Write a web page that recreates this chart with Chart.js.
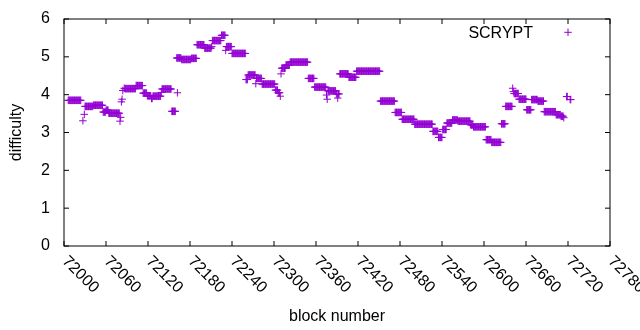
<!DOCTYPE html>
<html>
<head>
<meta charset="utf-8">
<title>SCRYPT difficulty</title>
<script src="https://cdn.jsdelivr.net/npm/chart.js@4.4.1/dist/chart.umd.min.js"></script>
<style>
    html, body { margin: 0; padding: 0; background: #fff; }
    #wrap { width: 640px; height: 330px; }
</style>
</head>
<body>
<div id="wrap"><canvas id="chartDifficulty"></canvas></div>
<script>
// Difficulty: block range -> value
const runFrom  = [72006, 72027, 72029, 72030, 72042, 72056, 72060, 72064, 72080, 72081,
                  72082, 72083, 72084, 72086, 72087, 72103, 72113, 72119, 72125, 72127,
                  72139, 72140, 72154, 72161, 72162, 72168, 72182, 72190, 72201, 72211,
                  72212, 72225, 72231, 72232, 72240, 72260, 72263, 72274, 72275, 72283,
                  72302, 72306, 72309, 72310, 72311, 72317, 72323, 72349, 72358, 72375,
                  72376, 72377, 72389, 72391, 72392, 72394, 72407, 72418, 72452, 72473,
                  72483, 72501, 72527, 72535, 72541, 72547, 72555, 72563, 72581, 72585,
                  72603, 72611, 72625, 72631, 72641, 72642, 72643, 72650, 72661, 72668,
                  72677, 72686, 72703, 72710, 72714, 72718, 72723];
const runTo    = [72024, 72027, 72029, 72041, 72055, 72059, 72063, 72079, 72080, 72081,
                  72082, 72083, 72084, 72086, 72102, 72112, 72118, 72124, 72126, 72138,
                  72139, 72153, 72159, 72167, 72162, 72181, 72189, 72200, 72210, 72211,
                  72224, 72230, 72231, 72239, 72259, 72262, 72273, 72274, 72282, 72301,
                  72305, 72308, 72309, 72310, 72316, 72322, 72348, 72357, 72374, 72375,
                  72376, 72388, 72390, 72391, 72393, 72406, 72417, 72451, 72472, 72482,
                  72500, 72526, 72534, 72540, 72546, 72554, 72562, 72580, 72584, 72602,
                  72610, 72624, 72630, 72640, 72641, 72642, 72649, 72660, 72667, 72676,
                  72685, 72702, 72709, 72713, 72714, 72719, 72724];
const runValue = [3.85, 3.31, 3.48, 3.69, 3.72, 3.54, 3.59, 3.51, 3.30, 3.40,
                  3.81, 3.88, 4.11, 4.17, 4.16, 4.24, 4.04, 3.97, 3.90, 3.96,
                  4.06, 4.15, 3.56, 4.97, 4.05, 4.93, 4.96, 5.32, 5.23, 5.27,
                  5.43, 5.57, 5.17, 5.27, 5.09, 4.40, 4.52, 4.29, 4.43, 4.28,
                  4.12, 4.05, 3.96, 4.55, 4.70, 4.78, 4.86, 4.43, 4.20, 3.99,
                  3.88, 4.10, 4.02, 3.91, 4.02, 4.55, 4.46, 4.62, 3.83, 3.53,
                  3.35, 3.22, 3.03, 2.87, 3.08, 3.25, 3.33, 3.30, 3.20, 3.15,
                  2.81, 2.74, 3.23, 3.69, 4.17, 4.08, 4.03, 3.88, 3.60, 3.87,
                  3.83, 3.55, 3.47, 3.43, 3.39, 3.95, 3.87];

const xTicks = [72000, 72060, 72120, 72180, 72240, 72300, 72360,
                72420, 72480, 72540, 72600, 72660, 72720, 72780];
const yTicks = [0, 1, 2, 3, 4, 5, 6];

const FONT = { family: '"Liberation Sans", Arial, sans-serif', size: 16 };
const VIOLET = '#9400d3';

document.addEventListener('DOMContentLoaded', function () {
    initDifficultyChart();
});

/**
 * One point per block, taken from the runs above.
 */
function buildPoints() {
    const points = [];
    runFrom.forEach((from, i) => {
        for (let b = from; b <= runTo[i]; b++) {
            points.push({ x: b, y: runValue[i] });
        }
    });
    return points;
}

/**
 * gnuplot-like frame: full border, inward ticks on all four sides,
 * x tick labels rotated downwards.
 */
const frame = {
    id: 'frame',
    afterDraw(chart) {
        const { ctx, chartArea: a } = chart;
        const xs = chart.scales.x;
        const ys = chart.scales.y;
        const tl = 5;

        ctx.save();
        ctx.strokeStyle = '#000';
        ctx.lineWidth = 1;
        ctx.strokeRect(a.left, a.top, a.right - a.left, a.bottom - a.top);

        ctx.beginPath();
        xs.ticks.forEach(t => {
            const px = xs.getPixelForValue(t.value);
            ctx.moveTo(px, a.bottom); ctx.lineTo(px, a.bottom - tl);
            ctx.moveTo(px, a.top);    ctx.lineTo(px, a.top + tl);
        });
        ys.ticks.forEach(t => {
            const py = ys.getPixelForValue(t.value);
            ctx.moveTo(a.left, py);  ctx.lineTo(a.left + tl, py);
            ctx.moveTo(a.right, py); ctx.lineTo(a.right - tl, py);
        });
        ctx.stroke();

        ctx.fillStyle = '#000';
        ctx.font = FONT.size + 'px ' + FONT.family;
        ctx.textAlign = 'left';
        ctx.textBaseline = 'alphabetic';
        xs.ticks.forEach(t => {
            const px = xs.getPixelForValue(t.value);
            ctx.save();
            ctx.translate(px - 2.5, a.bottom + 16);
            ctx.rotate(Math.PI / 4);
            ctx.fillText(String(t.value), 0, 0);
            ctx.restore();
        });
        ctx.restore();
    },
};

/**
 * Key in the top right corner: title first, sample marker after it.
 */
const keyBox = {
    id: 'keyBox',
    afterDraw(chart) {
        const { ctx, chartArea: a } = chart;
        const ds = chart.data.datasets[0];

        ctx.save();
        ctx.fillStyle = '#000';
        ctx.font = FONT.size + 'px ' + FONT.family;
        ctx.textAlign = 'right';
        ctx.textBaseline = 'alphabetic';
        ctx.fillText(ds.label, a.right - 77, a.top + 18.5);

        ctx.strokeStyle = ds.borderColor;
        ctx.lineWidth = ds.pointBorderWidth;
        Chart.helpers.drawPoint(ctx, {
            pointStyle: 'cross',
            radius: ds.pointRadius,
            borderWidth: ds.pointBorderWidth,
        }, a.right - 42, a.top + 13.3);
        ctx.restore();
    },
};

function initDifficultyChart() {
    const canvas = document.getElementById('chartDifficulty');
    if (!canvas || typeof Chart === 'undefined') return;

    new Chart(canvas, {
        type: 'scatter',
        data: {
            datasets: [{
                label: 'SCRYPT',
                data: buildPoints(),
                showLine: false,
                pointStyle: 'cross',
                pointRadius: 3.75,
                pointBorderWidth: 1,
                borderColor: VIOLET,
                backgroundColor: VIOLET,
            }],
        },
        options: {
            responsive: true,
            maintainAspectRatio: false,
            animation: false,
            devicePixelRatio: 1,
            layout: { padding: { top: 19, right: 30, left: 0, bottom: 0 } },
            plugins: {
                legend: { display: false },
                tooltip: { enabled: false },
            },
            scales: {
                x: {
                    type: 'linear',
                    min: 72000,
                    max: 72780,
                    afterBuildTicks: s => { s.ticks = xTicks.map(v => ({ value: v })); },
                    afterFit: s => {
                        s.height = 84;
                        s.paddingLeft = 0;
                        s.paddingRight = 0;
                    },
                    grid: { display: false, drawTicks: false },
                    border: { display: false },
                    ticks: { display: false },
                    title: {
                        display: true,
                        text: 'block number',
                        color: '#000',
                        font: FONT,
                        padding: { top: 0, bottom: 4 },
                    },
                },
                y: {
                    type: 'linear',
                    min: 0,
                    max: 6,
                    afterBuildTicks: s => { s.ticks = yTicks.map(v => ({ value: v })); },
                    afterFit: s => {
                        s.width = 64;
                        s.paddingTop = 0;
                        s.paddingBottom = 0;
                    },
                    grid: { display: false, drawTicks: false },
                    border: { display: false },
                    ticks: {
                        color: '#000',
                        font: FONT,
                        padding: 14,
                        callback: v => String(v),
                    },
                    title: {
                        display: true,
                        text: 'difficulty',
                        color: '#000',
                        font: FONT,
                        padding: { top: 7, bottom: 0 },
                    },
                },
            },
        },
        plugins: [frame, keyBox],
    });
}
</script>
</body>
</html>
